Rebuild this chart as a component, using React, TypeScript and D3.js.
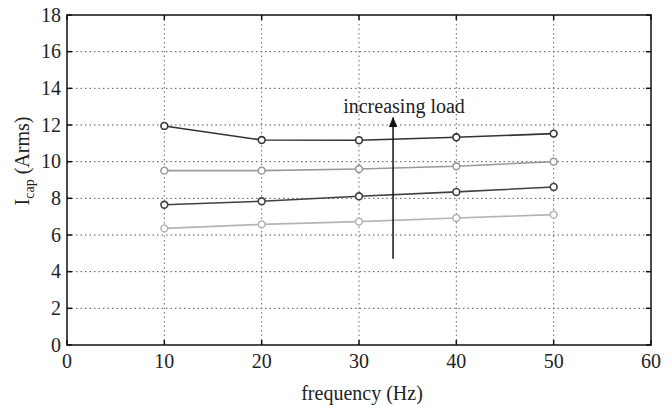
import React from "react";
import * as d3 from "d3";

const frequencies = [10, 20, 30, 40, 50];
const series1 = [11.95, 11.18, 11.17, 11.33, 11.53];
const series2 = [9.51, 9.51, 9.6, 9.75, 10.0];
const series3 = [7.65, 7.84, 8.11, 8.35, 8.62];
const series4 = [6.36, 6.58, 6.73, 6.93, 7.11];
const seriesList = [series1, series2, series3, series4];
const seriesColors = ["#333333", "#9a9a9a", "#404040", "#b4b4b4"];
const xTicks = [0, 10, 20, 30, 40, 50, 60];
const yTicks = [0, 2, 4, 6, 8, 10, 12, 14, 16, 18];
const annotation = "increasing load";
const arrowFrom = 4.7;
const arrowTo = 12.4;
const arrowX = 33.5;

export default function App() {
  const W = 672, H = 405;
  const L = 67, R = 651, T = 15, B = 345;
  const x = d3.scaleLinear().domain([0, 60]).range([L, R]);
  const y = d3.scaleLinear().domain([0, 18]).range([B, T]);
  const line = d3.line<number>().x((_, i) => x(frequencies[i])).y((d) => y(d));
  const font = "Times New Roman, Liberation Serif, DejaVu Serif, serif";
  const tick = 5;
  return (
    <svg width={W} height={H} style={{ position: "absolute", left: 0, top: 0, background: "#fff", fontFamily: font }}>
      <defs>
        <marker id="ah" viewBox="0 0 10 10" refX="9" refY="5" markerWidth="7" markerHeight="9" orient="auto">
          <path d="M0,1 L10,5 L0,9 z" fill="#111" />
        </marker>
      </defs>
      <rect x={0} y={0} width={W} height={H} fill="#fff" />
      {/* grid */}
      {xTicks.slice(1, -1).map((t) => (
        <line key={"gx" + t} x1={x(t)} x2={x(t)} y1={T} y2={B} stroke="#666" strokeWidth={1} strokeDasharray="1.5,3" />
      ))}
      {yTicks.slice(1, -1).map((t) => (
        <line key={"gy" + t} x1={L} x2={R} y1={y(t)} y2={y(t)} stroke="#555" strokeWidth={1} strokeDasharray="1.5,3" />
      ))}
      {/* ticks */}
      {xTicks.map((t) => (
        <g key={"tx" + t}>
          <line x1={x(t)} x2={x(t)} y1={B} y2={B - tick} stroke="#111" strokeWidth={1.5} />
          <line x1={x(t)} x2={x(t)} y1={T} y2={T + tick} stroke="#111" strokeWidth={1.5} />
          <text x={x(t)} y={368} textAnchor="middle" fontSize={20} fill="#222">{t}</text>
        </g>
      ))}
      {yTicks.map((t) => (
        <g key={"ty" + t}>
          <line x1={L} x2={L + tick} y1={y(t)} y2={y(t)} stroke="#111" strokeWidth={1.5} />
          <line x1={R} x2={R - tick} y1={y(t)} y2={y(t)} stroke="#111" strokeWidth={1.5} />
          <text x={61} y={y(t) + 6.5} textAnchor="end" fontSize={20} fill="#222">{t}</text>
        </g>
      ))}
      <rect x={L} y={T} width={R - L} height={B - T} fill="none" stroke="#111" strokeWidth={1.5} />
      {/* series */}
      {seriesList.map((s, si) => (
        <g key={"s" + si}>
          <path d={line(s) || ""} fill="none" stroke={seriesColors[si]} strokeWidth={1.6} />
          {s.map((v, i) => (
            <circle key={i} cx={x(frequencies[i])} cy={y(v)} r={3.4} fill="#fff" stroke={seriesColors[si]} strokeWidth={1.6} />
          ))}
        </g>
      ))}
      {/* annotation */}
      <line x1={x(arrowX)} x2={x(arrowX)} y1={y(arrowFrom)} y2={y(arrowTo)} stroke="#111" strokeWidth={1.5} markerEnd="url(#ah)" />
      <text x={404} y={113} textAnchor="middle" fontSize={20} fill="#222">{annotation}</text>
      {/* labels */}
      <text x={362} y={400} textAnchor="middle" fontSize={20} fill="#222">frequency (Hz)</text>
      <text transform={`translate(29,161) rotate(-90)`} textAnchor="middle" fontSize={20} fill="#222">
        I<tspan fontSize={14} dy={5}>cap</tspan><tspan dy={-5}> (Arms)</tspan>
      </text>
    </svg>
  );
}
